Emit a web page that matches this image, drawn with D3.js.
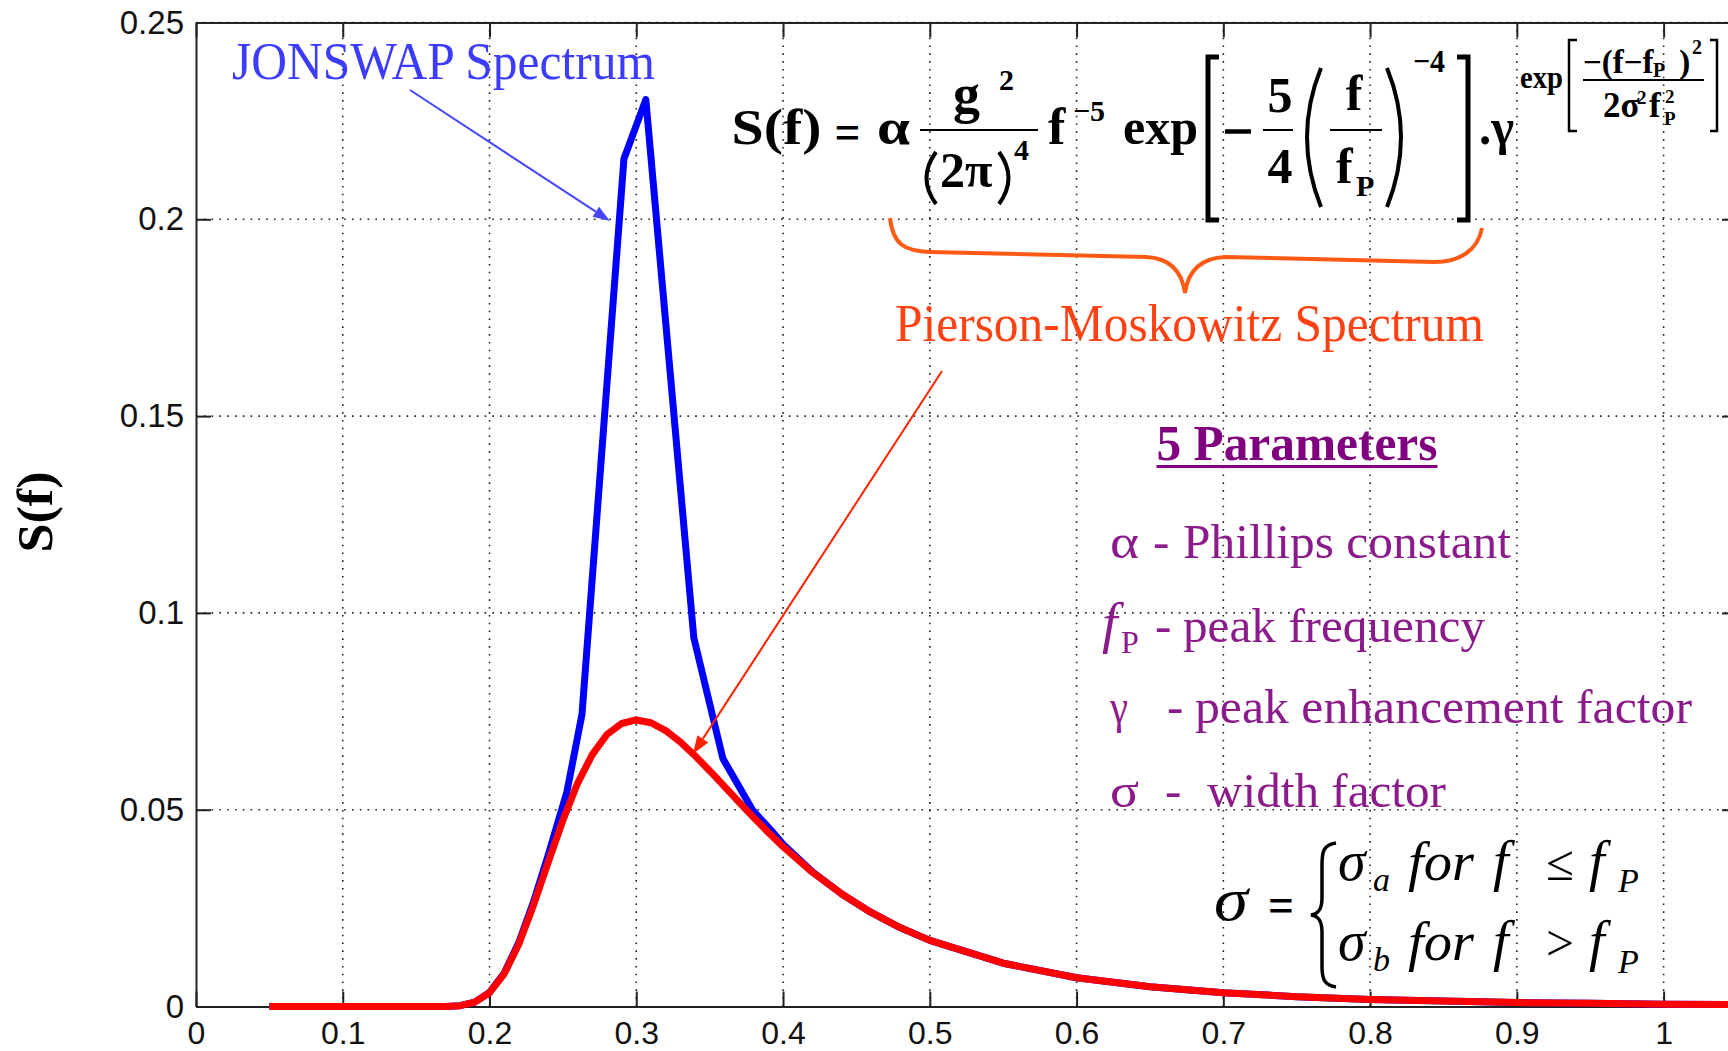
<!DOCTYPE html>
<html>
<head>
<meta charset="utf-8">
<script src="https://cdn.jsdelivr.net/npm/d3@7"></script>
<style>
  html, body { margin: 0; padding: 0; background: #fff; }
  svg { display: block; }
</style>
</head>
<body>
<script>
// Pierson-Moskowitz spectrum
const pmFreq = [0.05, 0.1, 0.15, 0.17, 0.18, 0.19, 0.2, 0.21, 0.22, 0.23, 0.24, 0.25, 0.26, 0.27, 0.28, 0.29,
  0.3, 0.31, 0.32, 0.33, 0.34, 0.35, 0.36, 0.37, 0.38, 0.39, 0.4, 0.42, 0.44, 0.46, 0.48, 0.5,
  0.55, 0.6, 0.65, 0.7, 0.75, 0.8, 0.85, 0.9, 0.95, 1.0, 1.05];
const pmS = [0, 0, 0, 0.00002, 0.0002, 0.0011, 0.0035, 0.0083, 0.0159, 0.0258, 0.0367, 0.0473, 0.0567, 0.0640, 0.0691, 0.0719,
  0.0728, 0.0721, 0.0701, 0.0672, 0.0637, 0.0599, 0.0559, 0.0519, 0.0480, 0.0442, 0.0406, 0.0341, 0.0286, 0.0239, 0.0200, 0.0168,
  0.0110, 0.0073, 0.0050, 0.0035, 0.0025, 0.0018, 0.0014, 0.0010, 0.0008, 0.0006, 0.0005];

// JONSWAP spectrum (coarse sampling around the peak)
const jsFreq = [0.05, 0.1, 0.15, 0.17, 0.18, 0.19, 0.2, 0.21, 0.22, 0.23, 0.24, 0.2527, 0.263, 0.2916, 0.3065,
  0.3392, 0.359, 0.3794, 0.393, 0.4, 0.42, 0.44, 0.46, 0.48, 0.5,
  0.55, 0.6, 0.65, 0.7, 0.75, 0.8, 0.85, 0.9, 0.95, 1.0, 1.05];
const jsS = [0, 0, 0, 0.00002, 0.0002, 0.0011, 0.0036, 0.0085, 0.0163, 0.0266, 0.0385, 0.0545, 0.0742, 0.2154, 0.2304,
  0.0937, 0.0630, 0.0498, 0.0443, 0.0412, 0.0342, 0.0286, 0.0239, 0.0200, 0.0168,
  0.0110, 0.0073, 0.0050, 0.0035, 0.0025, 0.0018, 0.0014, 0.0010, 0.0008, 0.0006, 0.0005];

const xTicks = [0, 0.1, 0.2, 0.3, 0.4, 0.5, 0.6, 0.7, 0.8, 0.9, 1];
const yTicks = [0, 0.05, 0.1, 0.15, 0.2, 0.25];

const W = 1728, H = 1051;
const serif = '"Liberation Serif", "Times New Roman", serif';
const sans = '"Liberation Sans", Arial, Helvetica, sans-serif';

const svg = d3.select("body").append("svg")
  .attr("width", W)
  .attr("height", H);

svg.append("rect").attr("width", W).attr("height", H).attr("fill", "#fff");

const x = d3.scaleLinear().domain([0, 1.05]).range([196, 1737]);
const y = d3.scaleLinear().domain([0, 0.25]).range([1006.5, 22.5]);

// dotted grid
const grid = svg.append("g")
  .attr("stroke", "#222")
  .attr("stroke-width", 1.6)
  .attr("stroke-dasharray", "1.6,6.2");
grid.selectAll(".gx")
  .data(xTicks.slice(1))
  .join("line")
  .attr("x1", d => x(d)).attr("x2", d => x(d))
  .attr("y1", y(0)).attr("y2", y(0.25));
grid.selectAll(".gy")
  .data(yTicks.slice(1))
  .join("line")
  .attr("x1", x(0)).attr("x2", x(1.05))
  .attr("y1", d => y(d)).attr("y2", d => y(d));

// axes, MATLAB style: ticks pointing inward on all four sides
function styleAxis(g) {
  g.select(".domain").attr("stroke", "#222").attr("stroke-width", 2);
  g.selectAll(".tick line").attr("stroke", "#222").attr("stroke-width", 2);
  g.selectAll("text")
    .attr("fill", "#111")
    .style("font-family", sans)
    .style("font-size", "32px");
}

svg.append("g")
  .attr("transform", `translate(0,${y(0)})`)
  .call(d3.axisBottom(x).tickValues(xTicks).tickFormat(d => String(d))
    .tickSizeInner(-15).tickSizeOuter(0).tickPadding(15))
  .call(styleAxis);

svg.append("g")
  .attr("transform", `translate(0,${y(0.25)})`)
  .call(d3.axisTop(x).tickValues(xTicks).tickFormat("")
    .tickSizeInner(-15).tickSizeOuter(0))
  .call(styleAxis);

svg.append("g")
  .attr("transform", `translate(${x(0)},0)`)
  .call(d3.axisLeft(y).tickValues(yTicks).tickFormat(d => String(d))
    .tickSizeInner(-15).tickSizeOuter(0).tickPadding(12))
  .call(styleAxis)
  .selectAll("text").style("font-size", "33px");

svg.append("g")
  .attr("transform", `translate(${x(1.05)},0)`)
  .call(d3.axisRight(y).tickValues(yTicks).tickFormat("")
    .tickSizeInner(-15).tickSizeOuter(0))
  .call(styleAxis);

// curves
const line = d3.line().x(d => x(d[0])).y(d => y(d[1]));

svg.append("path")
  .datum(d3.zip(jsFreq, jsS))
  .attr("d", line)
  .attr("fill", "none")
  .attr("stroke", "#0000ff")
  .attr("stroke-width", 7)
  .attr("stroke-linejoin", "round");

svg.append("path")
  .datum(d3.zip(pmFreq, pmS))
  .attr("d", line)
  .attr("fill", "none")
  .attr("stroke", "#ff0000")
  .attr("stroke-width", 7)
  .attr("stroke-linejoin", "round");

// ---- annotation helpers ----
function txt(g, s, px, py, size, o = {}) {
  const t = g.append("text")
    .attr("x", px)
    .attr("y", py)
    .attr("text-anchor", o.anchor || "start")
    .attr("fill", o.fill || "#000")
    .style("font-family", o.family || serif)
    .style("font-size", size + "px")
    .style("font-weight", o.weight || "normal")
    .style("font-style", o.style || "normal")
    .text(s);
  if (o.len) t.attr("textLength", o.len).attr("lengthAdjust", "spacingAndGlyphs");
  return t;
}

// one text element built from absolutely placed pieces: [str, x, y, size, italic?]
function multi(g, pieces, o = {}) {
  const t = g.append("text")
    .attr("fill", o.fill || "#000")
    .style("font-family", serif)
    .style("font-weight", o.weight || "normal");
  pieces.forEach(([s, px, py, size, it]) => {
    t.append("tspan")
      .attr("x", px).attr("y", py)
      .style("font-size", size + "px")
      .style("font-style", it ? "italic" : "normal")
      .text(s);
  });
  return t;
}

function arrow(g, x1, y1, x2, y2, color, hl, hw) {
  const a = Math.atan2(y2 - y1, x2 - x1);
  const bx = x2 - hl * Math.cos(a), by = y2 - hl * Math.sin(a);
  g.append("line")
    .attr("x1", x1).attr("y1", y1).attr("x2", bx).attr("y2", by)
    .attr("stroke", color).attr("stroke-width", 2);
  const nx = -Math.sin(a) * hw / 2, ny = Math.cos(a) * hw / 2;
  g.append("polygon")
    .attr("points", `${x2},${y2} ${bx + nx},${by + ny} ${bx - nx},${by - ny}`)
    .attr("fill", color);
}

function bar(g, x1, x2, yy, w) {
  g.append("line").attr("x1", x1).attr("x2", x2).attr("y1", yy).attr("y2", yy)
    .attr("stroke", "#000").attr("stroke-width", w || 2);
}

function stroke(g, d, w, color) {
  g.append("path").attr("d", d).attr("fill", "none")
    .attr("stroke", color || "#000").attr("stroke-width", w);
}

const ann = svg.append("g");

// y label
txt(ann, "S(f)", 0, 0, 50, { weight: "bold", anchor: "middle", len: 81 })
  .attr("transform", "translate(52,512) rotate(-90)");

// JONSWAP label + arrow
txt(ann, "JONSWAP Spectrum", 232, 79, 52, { fill: "#3c3cff", len: 423 });
arrow(ann, 410, 90, 610, 221, "#4646ff", 17, 12);

// formula
const fm = ann.append("g");
const B = { weight: "bold" };
txt(fm, "S(f)", 731.5, 143.5, 50, { ...B, len: 90 });
txt(fm, "=", 834.5, 149, 50, { ...B, len: 26 });
txt(fm, "α", 877, 143.5, 50, { ...B, len: 33 });
bar(fm, 920, 1038, 130);
multi(fm, [["g", 953, 112, 54], ["2", 999, 90, 30]], B);
stroke(fm, "M936,152 Q917,178 936,204", 4);
stroke(fm, "M999,152 Q1018,178 999,204", 4);
multi(fm, [["2π", 940, 187, 50], ["4", 1014, 160, 30]], B);
multi(fm, [["f", 1048, 143.5, 52], ["−5", 1073, 121, 30]], B);
txt(fm, "exp", 1123, 143.5, 50, { ...B, len: 75 });
stroke(fm, "M1219,57 H1208 V220 H1219", 5);
bar(fm, 1225, 1251, 131.5, 4.5);
bar(fm, 1263, 1293, 130);
txt(fm, "5", 1280, 112, 50, { ...B, anchor: "middle" });
txt(fm, "4", 1280, 183, 50, { ...B, anchor: "middle" });
stroke(fm, "M1321,68 Q1293,137 1321,207", 4);
bar(fm, 1330, 1382, 130);
txt(fm, "f", 1354, 110, 50, { ...B, anchor: "middle" });
multi(fm, [["f", 1336, 183, 50], ["P", 1356, 196, 30]], B);
stroke(fm, "M1387,68 Q1415,137 1387,207", 4);
txt(fm, "−4", 1413, 72, 32, { ...B, len: 32 });
stroke(fm, "M1457,57 H1468 V220 H1457", 5);
txt(fm, ".γ", 1479, 143.5, 50, { ...B, len: 35 });
txt(fm, "exp", 1520, 88, 32, { ...B, len: 43 });
stroke(fm, "M1577,40 H1569 V131 H1577", 2.5);
multi(fm, [["−(f−f", 1583, 73, 33], ["P", 1653, 77, 20], [")", 1679, 73, 34], ["2", 1692, 54, 20]], B);
bar(fm, 1583, 1704, 80);
multi(fm, [["2σ", 1603, 117, 35], ["2", 1637, 104, 19], ["f", 1649, 117, 35], ["2", 1665, 103, 19], ["P", 1664, 125, 19]], B);
stroke(fm, "M1710,40 H1717 V131 H1710", 2.5);

// orange brace under the PM part of the formula
stroke(ann, "M890,218 C893,245 905,251 930,252 L1146,257 C1170,258 1182,272 1185,293 " +
  "C1188,272 1200,258 1225,257 L1434,262 C1460,262 1478,250 1482,228", 4, "#ff5a14");
txt(ann, "Pierson-Moskowitz Spectrum", 895, 341, 52, { fill: "#ff4214", len: 589 });
arrow(ann, 942, 371, 693, 754, "#ff2200", 18, 13);

// 5 parameters block
const purple = "#8b1a8b";
txt(ann, "5 Parameters", 1156.5, 460, 50, { weight: "bold", fill: "#800080", len: 281 });
ann.append("rect").attr("x", 1156.5).attr("y", 465).attr("width", 281).attr("height", 3).attr("fill", "#800080");

txt(ann, "α", 1110, 558, 49, { fill: purple, len: 29 });
txt(ann, "-", 1153, 558, 49, { fill: purple });
txt(ann, "Phillips constant", 1183, 558, 49, { fill: purple, len: 328 });

multi(ann, [["f", 1102, 642, 56, true], ["P", 1121, 653, 32]], { fill: purple });
txt(ann, "-", 1155, 642, 49, { fill: purple });
txt(ann, "peak frequency", 1183, 642, 49, { fill: purple, len: 302 });

txt(ann, "γ", 1110, 723, 49, { fill: purple, len: 18 });
txt(ann, "-", 1167, 723, 49, { fill: purple });
txt(ann, "peak enhancement factor", 1195, 723, 49, { fill: purple, len: 497 });

txt(ann, "σ", 1110, 807, 49, { fill: purple, len: 29 });
txt(ann, "-", 1165, 807, 49, { fill: purple });
txt(ann, "width factor", 1207, 807, 49, { fill: purple, len: 239 });

// sigma definition
const I = { style: "italic" };
txt(ann, "σ", 1214, 920, 62, { ...I, len: 34 });
txt(ann, "=", 1268, 922, 50, { weight: "bold", len: 26 });
stroke(ann, "M1336,843 C1323,845 1322,852 1322,865 L1322,898 C1322,910 1318,914 1311,915 " +
  "C1318,916 1322,920 1322,932 L1322,966 C1322,979 1324,985 1336,987", 3.5);
[[880, 892, "a", "≤"], [960, 973, "b", ">"]].forEach(([by, sy, sub, rel]) => {
  multi(ann, [["σ", 1338, by, 56, true], [sub, 1373, by + 11, 34, true]]);
  txt(ann, "for", 1408, by, 54, { ...I, len: 66 });
  txt(ann, "f", 1493, by, 56, I);
  txt(ann, rel, 1546, by, 50, { len: 28 });
  multi(ann, [["f", 1589, by, 56, true], ["P", 1618, sy, 34, true]]);
});
</script>
</body>
</html>
